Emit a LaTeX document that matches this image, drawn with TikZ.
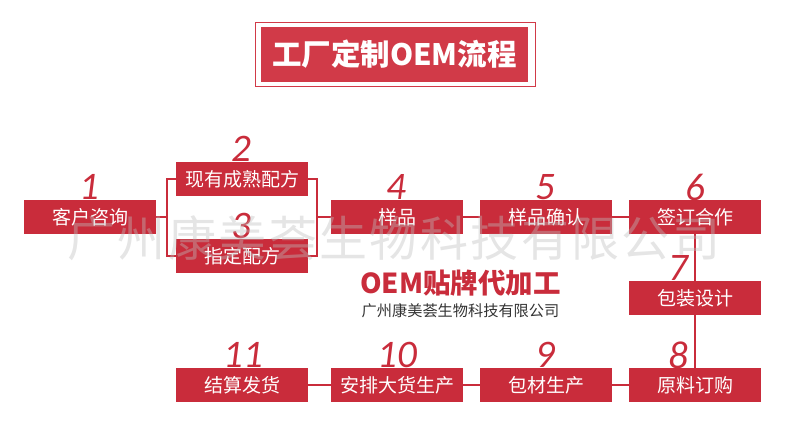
\documentclass[tikz,border=0pt]{standalone}
\usepackage{fontspec}
\setmainfont{Noto Sans CJK SC}
\newfontfamily\numfont{Carlito}
\usetikzlibrary{calc}
\definecolor{boxred}{HTML}{C92C3B}
\definecolor{titlered}{HTML}{D13A48}
\definecolor{darktext}{HTML}{333333}
\definecolor{wmgrey}{HTML}{BDBDBD}
\tikzset{
  x=1pt,y=-1pt,
  stepbox/.style={fill=boxred,text=white,minimum width=132pt,minimum height=34pt,inner sep=0pt,font=\fontsize{19}{21}\selectfont},
  num/.style={text=boxred,inner sep=0pt,font=\numfont\itshape\fontsize{39}{41}\selectfont},
  link/.style={draw=boxred,line width=2pt},
}
\begin{document}
\begin{tikzpicture}
\useasboundingbox (0,0) rectangle (790,432);
% title
\node[draw=titlered,line width=1pt,minimum width=280pt,minimum height=63.5pt,inner sep=0pt] (titleframe) at (395,54.5) {};
\node[fill=titlered,text=white,minimum width=267pt,minimum height=55pt,inner sep=0pt,font=\bfseries\fontsize{29.5}{32}\selectfont] (title) at (394.5,54.5) {工厂定制OEM流程};
% step boxes
\coordinate (jl) at (166.5,217);
\coordinate (jr) at (317,217);
\node[stepbox] (s1) at (90,217) {客户咨询};
\node[stepbox] (s2) at (242,179) {现有成熟配方};
\node[stepbox] (s3) at (242,256) {指定配方};
\node[stepbox] (s4) at (397,217) {样品};
\node[stepbox] (s5) at (546,217) {样品确认};
\node[stepbox] (s6) at (695,217) {签订合作};
\node[stepbox] (s7) at (695,298) {包装设计};
\node[stepbox] (s8) at (695,385) {原料订购};
\node[stepbox] (s9) at (546,385) {包材生产};
\node[stepbox] (s10) at (397,385) {安排大货生产};
\node[stepbox] (s11) at (242,385) {结算发货};
% connectors
\draw[link] (s1.east) -- (jl);
\draw[link] (s2.west) -| (jl) |- (s3.west);
\draw[link] (s2.east) -| (jr) |- (s3.east);
\draw[link] (jr) -- (s4.west);
\draw[link] (s4.east) -- (s5.west);
\draw[link] (s5.east) -- (s6.west);
\draw[link] (s6.south) -- (s7.north);
\draw[link] (s7.south) -- (s8.north);
\draw[link] (s8.west) -- (s9.east);
\draw[link] (s9.west) -- (s10.east);
\draw[link] (s10.west) -- (s11.east);
% numbers
\node[num] (n1) at (89,187) {1};
\node[num] (n2) at (241,149) {2};
\node[num] (n3) at (241,226) {3};
\node[num] (n4) at (396,187) {4};
\node[num] (n5) at (545,187) {5};
\node[num] (n6) at (695,187) {6};
\node[num] (n7) at (678,268) {7};
\node[num] (n8) at (678,355) {8};
\node[num] (n9) at (545,355) {9};
\node[num] (n10) at (397,355) {10};
\node[num] (n11) at (243,355) {11};
% centre label
\node[text=boxred,inner sep=0pt,font=\bfseries\fontsize{27.5}{30}\selectfont] (oem) at (460.5,283) {OEM贴牌代加工};
\node[text=darktext,inner sep=0pt,font=\fontsize{15.2}{17}\selectfont] (company) at (460.5,311) {广州康美荟生物科技有限公司};
% watermark
\node[text=wmgrey,opacity=.4,inner sep=0pt,font=\fontsize{48}{50}\selectfont\addfontfeature{LetterSpace=5}] (wm) at (394,238) {广州康美荟生物科技有限公司};
\end{tikzpicture}
\end{document}
